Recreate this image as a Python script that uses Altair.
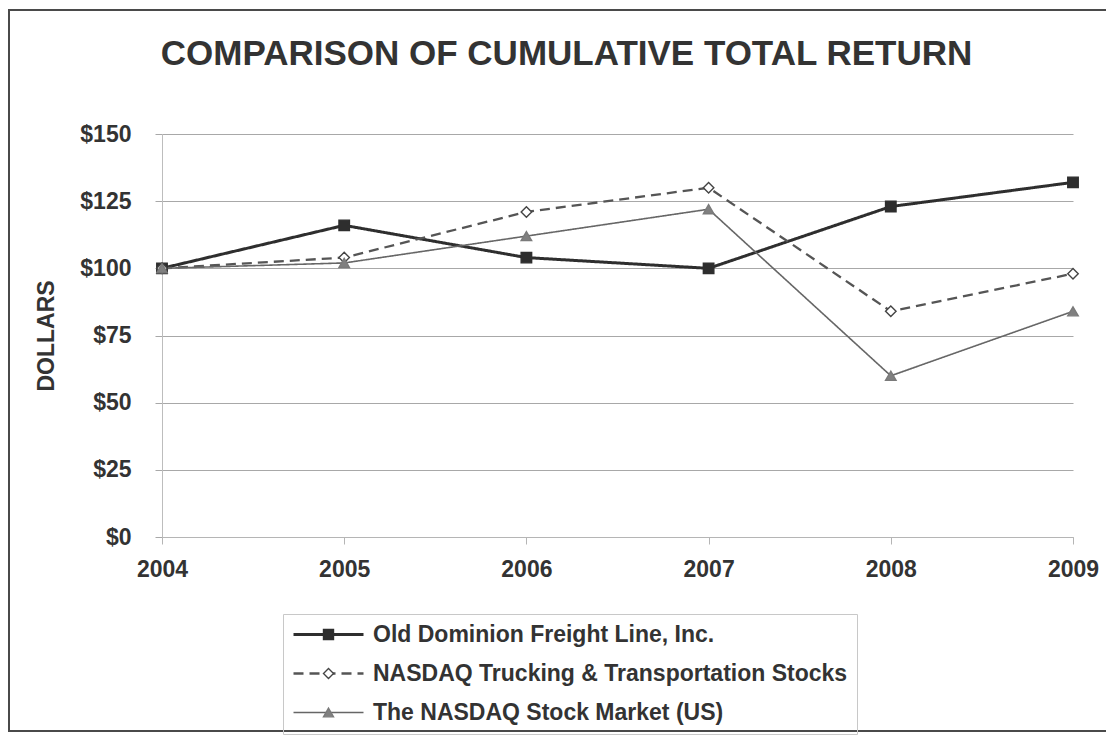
import altair as alt
import pandas as pd

years = [2004, 2005, 2006, 2007, 2008, 2009]
series_names = [
    "Old Dominion Freight Line, Inc.",
    "NASDAQ Trucking & Transportation Stocks",
    "The NASDAQ Stock Market (US)",
]
odfl = [100, 116, 104, 100, 123, 132]
trucking = [100, 104, 121, 130, 84, 98]
nasdaq = [100, 102, 112, 122, 60, 84]
y_ticks = [0, 25, 50, 75, 100, 125, 150]

rows = []
for i, (name, vals) in enumerate(zip(series_names, [odfl, trucking, nasdaq])):
    for yr, v in zip(years, vals):
        rows.append({"year": yr, "value": v, "series": name, "series_pt": name, "order": i})
df = pd.DataFrame(rows)

FONT = "Liberation Sans"
TXT = "#333333"

line_colors = ["#2e2e2e", "#555555", "#666666"]
line_widths = [3, 1.6, 1.5]
line_dash = [[1, 0], [10, 6], [1, 0]]
pt_stroke = ["#2e2e2e", "#444444", "#7a7a7a"]
pt_fill = ["#2e2e2e", "#ffffff", "#808080"]
pt_shape = ["square", "diamond", "triangle-up"]

LEG_X, LEG_Y = 121, 480

x_enc = alt.X(
    "year:Q",
    scale=alt.Scale(domain=[2004, 2009], nice=False, zero=False),
    axis=alt.Axis(
        values=years, format="d", title=None, grid=False,
        domainColor="#b5b5b5", tickColor="#b5b5b5", tickSize=7,
        labelFlush=False, labelOverlap=False, labelPadding=14,
        labelFont=FONT, labelFontSize=23, labelFontWeight="bold", labelColor=TXT,
    ),
)
y_enc = alt.Y(
    "value:Q",
    scale=alt.Scale(domain=[0, 150], nice=False),
    axis=alt.Axis(
        values=y_ticks, format="$.0f", title="DOLLARS", grid=True,
        gridColor="#a8a8a8", gridWidth=1,
        domainColor="#bdbdbd", tickColor="#a8a8a8", tickSize=7,
        labelPadding=24, labelFont=FONT, labelFontSize=23, labelFontWeight="bold",
        labelColor=TXT, titleFont=FONT, titleFontSize=23, titleFontWeight="bold",
        titleColor=TXT, titlePadding=21,
    ),
)

base = alt.Chart(df)

leg_common = dict(
    title=None, orient="none", legendX=LEG_X, legendY=LEG_Y,
    symbolSize=100, symbolOffset=25, labelOffset=33,
    labelFont=FONT, labelFontSize=23, labelFontWeight="bold", labelColor=TXT,
    labelLimit=800, rowPadding=15, padding=9,
)

lines = base.mark_line().encode(
    x=x_enc,
    y=y_enc,
    stroke=alt.Stroke(
        "series:N",
        scale=alt.Scale(domain=series_names, range=line_colors),
        legend=alt.Legend(symbolType="M-7,0H7", strokeColor="#c8c8c8", **leg_common),
    ),
    strokeDash=alt.StrokeDash(
        "series:N", scale=alt.Scale(domain=series_names, range=line_dash)
    ),
    strokeWidth=alt.StrokeWidth(
        "series:N", scale=alt.Scale(domain=series_names, range=line_widths)
    ),
)

pt_sort = alt.EncodingSortField("order", op="min")
points = base.mark_point(filled=False, opacity=1, size=110, strokeWidth=1.4).encode(
    x=x_enc,
    y=y_enc,
    color=alt.Color(
        "series_pt:N", sort=pt_sort,
        scale=alt.Scale(range=pt_stroke),
        legend=alt.Legend(symbolStrokeWidth=1.4, labelOpacity=0, **leg_common),
    ),
    fill=alt.Fill("series_pt:N", sort=pt_sort, scale=alt.Scale(range=pt_fill)),
    shape=alt.Shape("series_pt:N", sort=pt_sort, scale=alt.Scale(range=pt_shape)),
)

frame = alt.Chart(alt.Data(values=[{"k": 1}])).mark_rect(
    fillOpacity=0, stroke="#4a4a4a", strokeWidth=2
).encode(
    x=alt.value(-153), x2=alt.value(1000), y=alt.value(-124), y2=alt.value(597)
)

chart = alt.layer(frame, lines, points).properties(
    width=911,
    height=403,
    title=alt.Title(
        "COMPARISON OF CUMULATIVE TOTAL RETURN",
        font=FONT, fontSize=35, fontWeight="bold", color=TXT,
        anchor="middle", frame="group", dx=-51, offset=0,
        baseline="alphabetic", dy=91,
    ),
    padding={"left": 154, "top": 126, "right": 33, "bottom": 200},
    autosize="none",
).configure_view(stroke=None)

chart.save("out.html", embed_options={"renderer": "svg", "actions": False})
